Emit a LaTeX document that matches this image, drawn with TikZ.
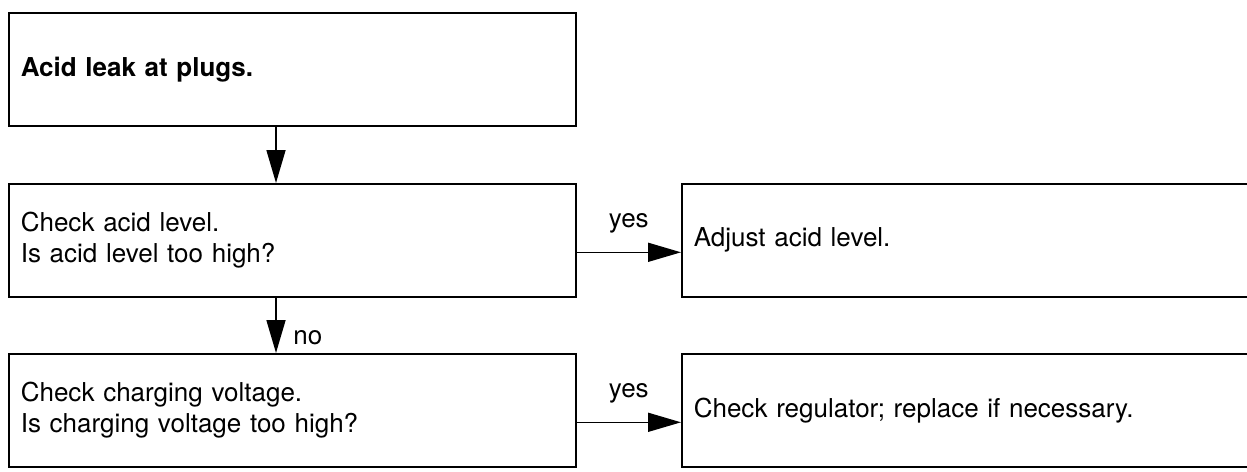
\documentclass[tikz,border=0pt]{standalone}
\usepackage{fontspec}
\setmainfont{TeX Gyre Heros}
\usetikzlibrary{arrows.meta,positioning}
\begin{document}
\begin{tikzpicture}[x=0.5pt,y=-0.5pt,font=\fontsize{13}{15.5}\selectfont,
  b/.style={draw,line width=0.8pt,minimum width=283.5pt,minimum height=56.5pt,
    text width=271.5pt,align=left,inner xsep=6pt,anchor=north west},
  a/.style={-{Triangle[length=16.5pt,width=9.5pt]},line width=0.8pt}]
\clip (0,0) rectangle (1247,471);
% left column
\node[b,font=\fontsize{13}{15.5}\selectfont\bfseries] (leak) at (8,12) {Acid leak at plugs.};
\node[b] (acid) at (8,183) {Check acid level.\\Is acid level too high?};
\node[b] (volt) at (8,353) {Check charging voltage.\\Is charging voltage too high?};
% right column
\node[b,minimum width=290pt,text width=278pt] (adjust) at (681,183) {Adjust acid level.};
\node[b,minimum width=290pt,text width=278pt] (reg) at (681,353) {Check regulator; replace if necessary.};
% arrows
\draw[a] ([xshift=134pt]leak.south west) -- ([xshift=134pt]acid.north west);
\draw[a] ([xshift=134pt]acid.south west) -- ([xshift=134pt]volt.north west)
  node[pos=0.72,right=5pt] {no};
\draw[a] ([yshift=-6pt]acid.east) -- ([yshift=-6pt]adjust.west)
  node[midway,above=6pt] {yes};
\draw[a] ([yshift=-6pt]volt.east) -- ([yshift=-6pt]reg.west)
  node[midway,above=6pt] {yes};
\end{tikzpicture}
\end{document}
